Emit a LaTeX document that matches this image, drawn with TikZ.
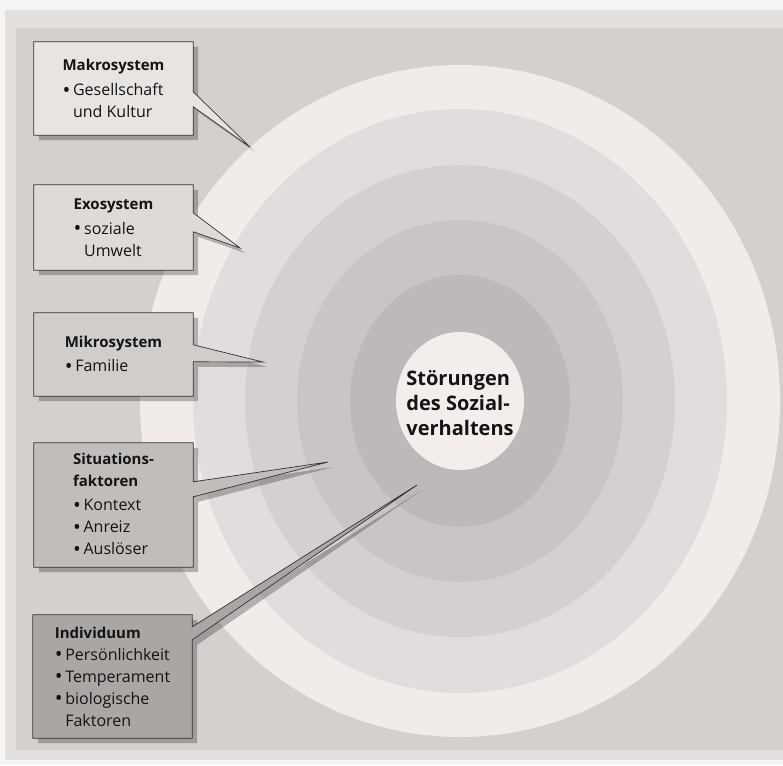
\documentclass[tikz,border=0pt]{standalone}
\usepackage{fontspec}
\setmainfont{Open Sans}
\usetikzlibrary{shadows}

\definecolor{pagewhite}{HTML}{F7F5F4}
\definecolor{paperlight}{HTML}{E3DFDD}
\definecolor{paper}{HTML}{D4D0CE}
\definecolor{ringOut}{HTML}{F1ECEA}
\definecolor{ringB}{HTML}{E1DDDC}
\definecolor{ringC}{HTML}{D5D0D0}
\definecolor{ringD}{HTML}{C9C5C5}
\definecolor{ringE}{HTML}{BDB9B9}
\definecolor{ringCore}{HTML}{F3EEEC}
\definecolor{boxMakro}{HTML}{E8E4E2}
\definecolor{boxExo}{HTML}{DEDAD8}
\definecolor{boxMikro}{HTML}{D1CDCB}
\definecolor{boxSit}{HTML}{C1BDBB}
\definecolor{boxInd}{HTML}{AAA6A4}
\definecolor{inkdark}{HTML}{141414}

\pgfdeclarelayer{back}
\pgfdeclarelayer{boxes}
\pgfsetlayers{back,boxes,main}

\newcommand{\bul}{\raisebox{-1.6pt}{\scalebox{1.3}{\textbullet}}\,}
\newcommand{\hang}{\phantom{\scalebox{1.3}{\textbullet}\,}}
\newcommand{\ttl}[1]{{\fontsize{15}{22}\selectfont\bfseries #1}}

\begin{document}
\begin{tikzpicture}[
    x=1pt, y=-1pt,
    sysbox/.style={minimum width=159pt, minimum height=#1, inner sep=0pt,
                   align=left, text=inkdark, font=\fontsize{16}{22}\selectfont},  % text of a system box
    callout/.style={draw=black!80, line width=0.7pt, fill=#1,
                    drop shadow={shadow xshift=5pt, shadow yshift=-5pt, fill=black, opacity=0.25}},  % box with pointer
    coretext/.style={align=left, text=inkdark, font=\fontsize{20}{25}\selectfont\bfseries}
]
\useasboundingbox (0,0) rectangle (783,765);

% --- PAPER AND CONCENTRIC RINGS ---
\coordinate (core) at (460,401);
\begin{pgfonlayer}{back}
  \fill[pagewhite] (0,0) rectangle (783,765);
  \fill[paperlight] (5,10) rectangle (783,760);
  \fill[paper] (16,28) rectangle (783,750);
  \foreach \rx/\ry/\tone in {320/336/ringOut, 267/292/ringB, 215/236/ringC,
                             163/181/ringD, 110/126/ringE, 64/69/ringCore}
    \fill[\tone] (core) ellipse [x radius=\rx, y radius=\ry];
\end{pgfonlayer}

% --- CENTRE LABEL ---
\node[coretext] (label) at (460,403) {Störungen\\des Sozial-\\verhaltens};

% --- SYSTEM BOXES ---
\node[sysbox=93pt]  (makro) at (113.5,88.5)  {\ttl{Makrosystem}\\[3pt]\bul Gesellschaft\\\hang und Kultur};
\node[sysbox=85pt]  (exo)   at (113.5,227.5) {\ttl{Exosystem}\\[3pt]\bul soziale\\\hang Umwelt};
\node[sysbox=83pt]  (mikro) at (113.5,354.5) {\ttl{Mikrosystem}\\[2pt]\bul Familie};
\node[sysbox=124pt] (sit)   at (113.5,505)   {\ttl{Situations-}\\\ttl{faktoren}\\[2pt]\bul Kontext\\\bul Anreiz\\\bul Auslöser};
\node[sysbox=123pt] (ind)   at (112.5,676.5) {\ttl{Individuum}\\\bul Persönlichkeit\\\bul Temperament\\\bul biologische\\\hang Faktoren};

% --- POINTER TIPS ---
\coordinate (makroTip) at (250,147);
\coordinate (exoTip)   at (240,248);
\coordinate (mikroTip) at (263,362);
\coordinate (sitTip)   at (328,462);
\coordinate (indTip)   at (417,485);

% --- CALLOUT OUTLINES ---
\begin{pgfonlayer}{boxes}
  \draw[callout=boxMakro] (makro.north west) -- (makro.north east) -- ([yshift=-50pt]makro.north east)
      -- (makroTip) -- ([yshift=-65pt]makro.north east) -- (makro.south east) -- (makro.south west) -- cycle;
  \draw[callout=boxExo] (exo.north west) -- (exo.north east) -- ([yshift=-28pt]exo.north east)
      -- (exoTip) -- ([yshift=-47pt]exo.north east) -- (exo.south east) -- (exo.south west) -- cycle;
  \draw[callout=boxMikro] (mikro.north west) -- (mikro.north east) -- ([yshift=-32pt]mikro.north east)
      -- (mikroTip) -- ([yshift=-49pt]mikro.north east) -- (mikro.south east) -- (mikro.south west) -- cycle;
  \draw[callout=boxSit] (sit.north west) -- (sit.north east) -- ([yshift=-39pt]sit.north east)
      -- (sitTip) -- ([yshift=-54pt]sit.north east) -- (sit.south east) -- (sit.south west) -- cycle;
  \draw[callout=boxInd] (ind.north west) -- (ind.north east) -- ([yshift=-12pt]ind.north east)
      -- (indTip) -- ([yshift=-25pt]ind.north east) -- (ind.south east) -- (ind.south west) -- cycle;
\end{pgfonlayer}

\end{tikzpicture}
\end{document}
